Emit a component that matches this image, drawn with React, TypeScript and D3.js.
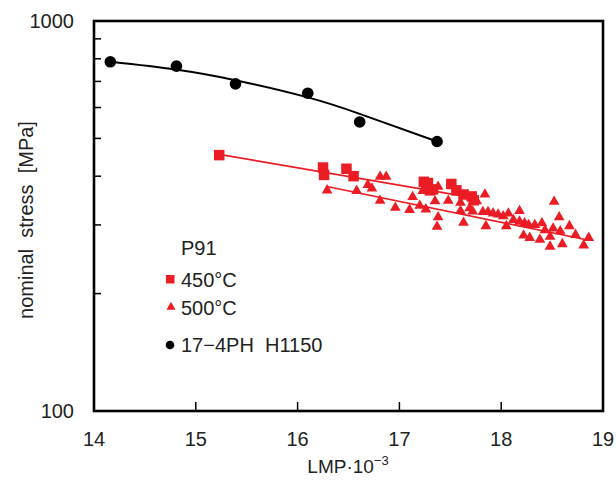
import React from "react";
import * as d3 from "d3";

const W = 616, H = 481;
const M = { left: 94, right: 603, top: 21, bottom: 411 };

const xTicks = [14, 15, 16, 17, 18, 19];
const yMinorTicks = [200, 300, 400, 500, 600, 700, 800, 900];
const yLabels = [100, 1000];

// 17-4PH H1150 (black circles)
const phX = [14.16, 14.81, 15.39, 16.1, 16.61, 17.37];
const phY = [786, 766, 690, 653, 551, 491];
// fit curve for 17-4PH
const phFitX = [14.16, 14.8, 15.4, 16.1, 16.61, 17.37];
const phFitY = [786, 751, 704, 637, 578, 491];

// P91 450°C (red squares)
const sqX = [15.23, 16.25, 16.26, 16.48, 16.55, 17.24, 17.28, 17.3, 17.33, 17.51, 17.56, 17.63, 17.71, 17.73];
const sqY = [453, 421, 403, 418, 400, 387, 384, 368, 370, 382, 368, 359, 355, 347];
const sqFitX = [15.23, 17.73];
const sqFitY = [455, 352];

// P91 500°C (red triangles)
const trX = [16.29, 16.58, 16.69, 16.73, 16.81, 16.87, 16.81, 16.96, 17.1, 17.13, 17.2, 17.23, 17.26, 17.35, 17.38, 17.38, 17.37,
  17.48, 17.6, 17.6, 17.63, 17.69, 17.72, 17.76, 17.84, 17.85, 17.82, 17.87, 17.92, 17.97, 18.02, 18.05, 18.07, 18.12, 18.18, 18.18,
  18.23, 18.22, 18.28, 18.27, 18.33, 18.38, 18.4, 18.43, 18.48, 18.48, 18.51, 18.52, 18.57, 18.58, 18.6, 18.67, 18.73, 18.81, 18.86];
const trY = [368, 367, 380, 372, 399, 399, 346, 332, 328, 354, 336, 367, 329, 345, 376, 314, 297,
  346, 342, 326, 304, 331, 325, 345, 359, 298, 324, 324, 321, 319, 316, 298, 321, 309, 326, 306,
  303, 282, 278, 300, 300, 275, 303, 291, 280, 264, 294, 344, 314, 289, 268, 298, 283, 266, 278];
const trFitX = [16.3, 18.86];
const trFitY = [376, 274];

const RED = "#ec1c24";
const FONT = "'Liberation Sans', Arial, sans-serif";
const TXT = "#222";

export default function App() {
  const x = d3.scaleLinear().domain([14, 19]).range([M.left, M.right]);
  const y = d3.scaleLog().domain([100, 1000]).range([M.bottom, M.top]);

  const line = d3.line<[number, number]>().x(d => x(d[0])).y(d => y(d[1]));
  const curve = d3.line<[number, number]>().x(d => x(d[0])).y(d => y(d[1])).curve(d3.curveNatural);

  const phFit = phFitX.map((v, i) => [v, phFitY[i]] as [number, number]);
  const sqFit = sqFitX.map((v, i) => [v, sqFitY[i]] as [number, number]);
  const trFit = trFitX.map((v, i) => [v, trFitY[i]] as [number, number]);

  const sq = 10.5;
  const tri = d3.symbol().type(d3.symbolTriangle).size(50)() as string;

  return (
    <svg width={W} height={H} style={{ position: "absolute", left: 0, top: 0, background: "#fff" }} fontFamily={FONT}>
      <rect x={0} y={0} width={W} height={H} fill="#fff" />
      {/* fits */}
      <path d={curve(phFit) as string} fill="none" stroke="#000" strokeWidth={2} />
      <path d={line(sqFit) as string} fill="none" stroke={RED} strokeWidth={1.6} />
      <path d={line(trFit) as string} fill="none" stroke={RED} strokeWidth={1.6} />
      {/* triangles */}
      {trX.map((v, i) => (
        <path key={"t" + i} d={tri} transform={`translate(${x(v)},${y(trY[i])})`} fill={RED} />
      ))}
      {/* squares */}
      {sqX.map((v, i) => (
        <rect key={"s" + i} x={x(v) - sq / 2} y={y(sqY[i]) - sq / 2} width={sq} height={sq} fill={RED} />
      ))}
      {/* circles */}
      {phX.map((v, i) => (
        <circle key={"c" + i} cx={x(v)} cy={y(phY[i])} r={5.8} fill="#000" />
      ))}
      {/* axes frame */}
      <rect x={M.left} y={M.top} width={M.right - M.left} height={M.bottom - M.top} fill="none" stroke="#000" strokeWidth={2.6} />
      {yMinorTicks.map(t => (
        <line key={"yt" + t} x1={M.left} x2={M.left + 7} y1={y(t)} y2={y(t)} stroke="#000" strokeWidth={1.5} />
      ))}
      {xTicks.slice(1, -1).map(t => (
        <line key={"xt" + t} x1={x(t)} x2={x(t)} y1={M.bottom} y2={M.bottom - 9} stroke="#000" strokeWidth={1.5} />
      ))}
      {xTicks.map(t => (
        <text key={"xl" + t} x={x(t)} y={446} textAnchor="middle" fontSize={20} fill={TXT}>{t}</text>
      ))}
      {yLabels.map(t => (
        <text key={"yl" + t} x={74} y={y(t) + 7} textAnchor="end" fontSize={20} fill={TXT}>{t}</text>
      ))}
      <text x={348} y={473} textAnchor="middle" fontSize={19} fill={TXT}>
        LMP·10<tspan dy={-8} fontSize={13}>−3</tspan>
      </text>
      <text transform={`translate(33,${(M.top + M.bottom) / 2 + 4}) rotate(-90)`} textAnchor="middle" fontSize={20} fill={TXT} style={{ whiteSpace: "pre" }}>
        {"nominal  stress  [MPa]"}
      </text>
      {/* legend */}
      <text x={181} y={255} fontSize={20} fill={TXT}>P91</text>
      <rect x={166} y={275} width={8.5} height={8.5} fill={RED} />
      <text x={181} y={287} fontSize={20} fill={TXT}>450°C</text>
      <path d={d3.symbol().type(d3.symbolTriangle).size(36)() as string} transform="translate(171,307)" fill={RED} />
      <text x={181} y={315} fontSize={20} fill={TXT}>500°C</text>
      <circle cx={170} cy={345} r={4.3} fill="#000" />
      <text x={181} y={352} fontSize={20} fill={TXT} style={{ whiteSpace: "pre" }}>{"17−4PH  H1150"}</text>
    </svg>
  );
}
